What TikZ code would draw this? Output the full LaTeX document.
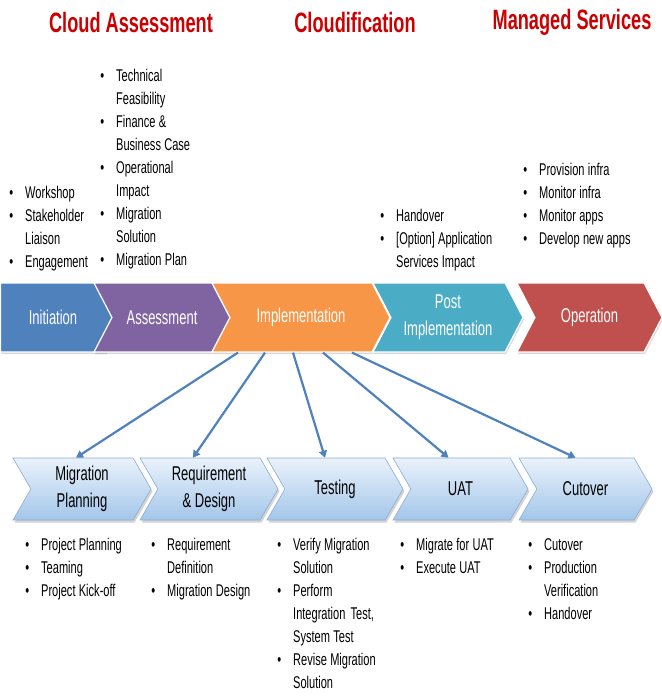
\documentclass[tikz,border=0pt]{standalone}
\usepackage{fontspec}
\setmainfont{Liberation Sans}[FakeStretch=0.65]
\usetikzlibrary{arrows.meta,shapes.symbols,shadows}
\definecolor{initblue}{RGB}{79,129,189}
\definecolor{assesspurple}{RGB}{128,100,162}
\definecolor{implorange}{RGB}{247,150,70}
\definecolor{postteal}{RGB}{75,172,198}
\definecolor{operred}{RGB}{192,80,77}
\definecolor{titlered}{RGB}{204,0,0}
\definecolor{steptop}{RGB}{234,242,251}
\definecolor{stepbot}{RGB}{163,198,234}
\definecolor{stepedge}{RGB}{140,172,212}
\definecolor{arrowblue}{RGB}{79,129,189}
\newcommand{\listfmt}{\leftskip=17pt\relax\spaceskip=3.3pt plus 1pt minus 0.5pt\relax}
\newcommand{\bitem}[1]{\leavevmode\llap{\textbullet\hspace{12pt}}#1\par}

\begin{document}
\begin{tikzpicture}[x=1pt, y=-1pt,
  phase/.style={signal, signal to=east, signal from=west, signal pointer angle=125,
    minimum height=69pt, inner sep=0pt, draw=white, line width=1.2pt, text=white,
    font=\fontsize{20}{27}\selectfont, align=center,
    drop shadow={shadow xshift=1pt, shadow yshift=-2pt, opacity=0.3}},
  substep/.style={signal, signal to=east, signal from=west, signal pointer angle=120,
    minimum height=62pt, inner sep=0pt, draw=stepedge, line width=0.6pt,
    top color=steptop, bottom color=stepbot, font=\fontsize{20}{27}\selectfont, align=center,
    drop shadow={shadow xshift=1.5pt, shadow yshift=-2.5pt, opacity=0.35}},
  headline/.style={text=titlered, font=\bfseries\fontsize{28}{32}\selectfont, inner sep=0pt},
  blist/.style={anchor=base west, inner sep=0pt, text width=160pt, align=left,
    font=\fontsize{17}{23}\selectfont},
  arr/.style={-{Triangle[length=7pt,width=8pt]}, arrowblue, line width=2.2pt}
]
  \useasboundingbox (0,0) rectangle (662,697);
  % ---------------- headlines ----------------
  \node[headline] (hassess) at (131,22) {Cloud Assessment};
  \node[headline] (hcloud) at (355,22) {Cloudification};
  \node[headline] (hmanaged) at (572,22) {Managed Services};
  % ---------------- main phases ----------------
  \node[phase, fill=initblue, signal from=nowhere, minimum width=123pt] (init) at (53,317.5) {Initiation};
  \node[phase, fill=assesspurple, minimum width=136pt] (assess) at (162,317.5) {Assessment};
  \node[phase, fill=implorange, minimum width=178pt] (impl) at (301,317.5) {Implementation};
  \node[phase, fill=postteal, minimum width=150pt] (post) at (448,317.5) {Post\\Implementation};
  \node[phase, fill=operred, minimum width=145pt] (oper) at (589.5,317.5) {Operation};
  % ---------------- implementation steps ----------------
  \node[substep, minimum width=138pt] (mig) at (82,489) {Migration\\Planning};
  \node[substep, minimum width=138pt] (req) at (209,489) {Requirement\\\& Design};
  \node[substep, minimum width=136pt] (test) at (335,489) {Testing};
  \node[substep, minimum width=135pt] (uat) at (460.5,489) {UAT};
  \node[substep, minimum width=133pt] (cut) at (585.5,489) {Cutover};
  % ---------------- bullet lists above the phases ----------------
  \node[blist] (linit) at (8,198) {\listfmt
    \bitem{Workshop}\bitem{Stakeholder\\Liaison}\bitem{Engagement}};
  \node[blist] (lassess) at (99,81) {\listfmt
    \bitem{Technical\\Feasibility}\bitem{Finance \&\\Business Case}
    \bitem{Operational\\Impact}\bitem{Migration\\Solution}\bitem{Migration Plan}};
  \node[blist] (lpost) at (379,221) {\listfmt
    \bitem{Handover}\bitem{[Option] Application\\Services Impact}};
  \node[blist] (loper) at (522,175) {\listfmt
    \bitem{Provision infra}\bitem{Monitor infra}\bitem{Monitor apps}\bitem{Develop new apps}};
  % ---------------- bullet lists below the steps ----------------
  \node[blist] (lmig) at (24,550) {\listfmt
    \bitem{Project Planning}\bitem{Teaming}\bitem{Project Kick-off}};
  \node[blist] (lreq) at (150,550) {\listfmt
    \bitem{Requirement\\Definition}\bitem{Migration Design}};
  \node[blist] (ltest) at (276,550) {\listfmt
    \bitem{Verify Migration\\Solution}\bitem{Perform\\Integration\hspace{2pt} Test,\\System Test}
    \bitem{Revise Migration\\Solution}};
  \node[blist] (luat) at (399,550) {\listfmt
    \bitem{Migrate for UAT}\bitem{Execute UAT}};
  \node[blist] (lcut) at (527,550) {\listfmt
    \bitem{Cutover}\bitem{Production\\Verification}\bitem{Handover}};
  % ---------------- fan-out arrows ----------------
  \draw[arr] ([xshift=-63pt]impl.south) -- ([xshift=-6pt]mig.north);
  \draw[arr] ([xshift=-36pt]impl.south) -- ([xshift=-16pt]req.north);
  \draw[arr] ([xshift=-8pt]impl.south) -- ([xshift=-10pt]test.north);
  \draw[arr] ([xshift=22pt]impl.south) -- ([xshift=-12pt]uat.north);
  \draw[arr] ([xshift=51pt]impl.south) -- ([xshift=-10pt]cut.north);
\end{tikzpicture}
\end{document}
